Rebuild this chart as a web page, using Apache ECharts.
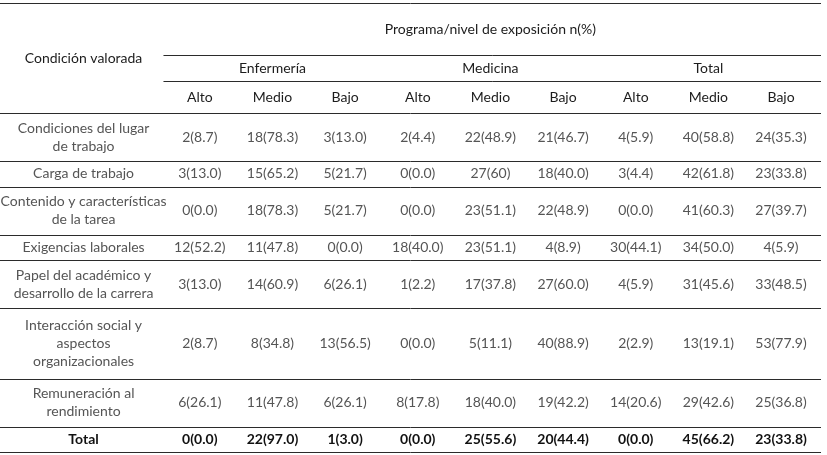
<!DOCTYPE html>
<html lang="es">
<head>
<meta charset="utf-8">
<title>Condición valorada por programa</title>
<script src="https://cdn.jsdelivr.net/npm/echarts@6/dist/echarts.min.js"></script>
<style>
  html, body { margin: 0; padding: 0; background: #fff; }
  #main { width: 827px; height: 455px; }
</style>
</head>
<body>
<div id="main"></div>
<script type="text/javascript">
  // table content
  const conditions = [
    'Condiciones del lugar\nde trabajo',
    'Carga de trabajo',
    'Contenido y características\nde la tarea',
    'Exigencias laborales',
    'Papel del académico y\ndesarrollo de la carrera',
    'Interacción social y\naspectos\norganizacionales',
    'Remuneración al\nrendimiento',
    'Total'
  ];
  const programs = ['Enfermería', 'Medicina', 'Total'];
  const levels = ['Alto', 'Medio', 'Bajo'];
  const cornerTitle = 'Condición valorada';
  const topTitle = 'Programa/nivel de exposición n(%)';

  const enfermeria = [
    ['2(8.7)', '18(78.3)', '3(13.0)'],
    ['3(13.0)', '15(65.2)', '5(21.7)'],
    ['0(0.0)', '18(78.3)', '5(21.7)'],
    ['12(52.2)', '11(47.8)', '0(0.0)'],
    ['3(13.0)', '14(60.9)', '6(26.1)'],
    ['2(8.7)', '8(34.8)', '13(56.5)'],
    ['6(26.1)', '11(47.8)', '6(26.1)'],
    ['0(0.0)', '22(97.0)', '1(3.0)']
  ];
  const medicina = [
    ['2(4.4)', '22(48.9)', '21(46.7)'],
    ['0(0.0)', '27(60)', '18(40.0)'],
    ['0(0.0)', '23(51.1)', '22(48.9)'],
    ['18(40.0)', '23(51.1)', '4(8.9)'],
    ['1(2.2)', '17(37.8)', '27(60.0)'],
    ['0(0.0)', '5(11.1)', '40(88.9)'],
    ['8(17.8)', '18(40.0)', '19(42.2)'],
    ['0(0.0)', '25(55.6)', '20(44.4)']
  ];
  const total = [
    ['4(5.9)', '40(58.8)', '24(35.3)'],
    ['3(4.4)', '42(61.8)', '23(33.8)'],
    ['0(0.0)', '41(60.3)', '27(39.7)'],
    ['30(44.1)', '34(50.0)', '4(5.9)'],
    ['4(5.9)', '31(45.6)', '33(48.5)'],
    ['2(2.9)', '13(19.1)', '53(77.9)'],
    ['14(20.6)', '29(42.6)', '25(36.8)'],
    ['0(0.0)', '45(66.2)', '23(33.8)']
  ];
  const programValues = [enfermeria, medicina, total];

  // layout (axis units: one column = 1 on x, one text line = 1 on y)
  const layout = {
    tableLeft: -2.75,
    tableRight: 8.55,
    labelX: -1.6,
    headerLineStart: -0.5,
    headerRows: [2.31, 1.16, 1.42],
    rowPad: 0.13
  };
  const fontFamily = 'Lato, "Open Sans", sans-serif';
  const styles = {
    head: { color: '#1c1c1c', weight: 'normal', size: 14 },
    body: { color: '#555', weight: 'normal', size: 14 },
    total: { color: '#111', weight: 'bold', size: 14 }
  };

  // row boundaries
  const headerEdges = [0];
  layout.headerRows.forEach((h) => headerEdges.push(headerEdges[headerEdges.length - 1] + h));
  const rowEdges = [headerEdges[headerEdges.length - 1]];
  conditions.forEach((c) => {
    let lines = c.split('\n').length;
    rowEdges.push(rowEdges[rowEdges.length - 1] + lines + layout.rowPad);
  });
  const yMax = rowEdges[rowEdges.length - 1];
  const mid = (edges, i) => (edges[i] + edges[i + 1]) / 2;

  // text cells: [x, y, text, style]
  let cells = [];
  cells.push([layout.labelX, headerEdges[headerEdges.length - 1] / 2, cornerTitle, 'head']);
  cells.push([(levels.length * programs.length - 1) / 2, mid(headerEdges, 0), topTitle, 'head']);
  programs.forEach((p, pi) => {
    cells.push([pi * levels.length + (levels.length - 1) / 2, mid(headerEdges, 1), p, 'head']);
    levels.forEach((l, li) => {
      cells.push([pi * levels.length + li, mid(headerEdges, 2), l, 'head']);
    });
  });
  conditions.forEach((c, ri) => {
    let st = ri === conditions.length - 1 ? 'total' : 'body';
    cells.push([layout.labelX, mid(rowEdges, ri), c, st]);
    programValues.forEach((vals, pi) => {
      vals[ri].forEach((v, li) => {
        cells.push([pi * levels.length + li, mid(rowEdges, ri), v, st]);
      });
    });
  });

  // horizontal rules: [x0, x1, y]
  let rules = [];
  rules.push([layout.tableLeft, layout.tableRight, 0]);
  rules.push([layout.headerLineStart, layout.tableRight, headerEdges[1]]);
  rules.push([layout.headerLineStart, layout.tableRight, headerEdges[2]]);
  rowEdges.forEach((y) => rules.push([layout.tableLeft, layout.tableRight, y]));

  let chart = echarts.init(document.getElementById('main'), null, { renderer: 'canvas' });

  let option = {
    animation: false,
    grid: { left: 0, right: 6, top: 3, bottom: 3 },
    xAxis: { type: 'value', min: layout.tableLeft, max: layout.tableRight, show: false },
    yAxis: { type: 'value', inverse: true, min: 0, max: yMax, show: false },
    series: [
      {
        type: 'custom',
        name: 'rules',
        data: rules,
        silent: true,
        clip: false,
        renderItem: (params, api) => {
          let p0 = api.coord([api.value(0), api.value(2)]);
          let p1 = api.coord([api.value(1), api.value(2)]);
          return {
            type: 'line',
            shape: { x1: p0[0], y1: Math.round(p0[1]) + 0.5, x2: p1[0], y2: Math.round(p1[1]) + 0.5 },
            style: { stroke: '#2b2b2b', lineWidth: 1 }
          };
        }
      },
      {
        type: 'custom',
        name: 'cells',
        data: cells.map((c) => ({ value: [c[0], c[1]], text: c[2], st: c[3] })),
        silent: true,
        clip: false,
        renderItem: (params, api) => {
          let item = cells[params.dataIndex];
          let p = api.coord([item[0], item[1]]);
          let s = styles[item[3]];
          return {
            type: 'text',
            x: p[0],
            y: p[1],
            style: {
              text: item[2],
              align: 'center',
              verticalAlign: 'middle',
              fill: s.color,
              fontSize: s.size,
              fontWeight: s.weight,
              fontFamily: fontFamily,
              lineHeight: 18
            }
          };
        }
      }
    ]
  };

  chart.setOption(option);
</script>
</body>
</html>
